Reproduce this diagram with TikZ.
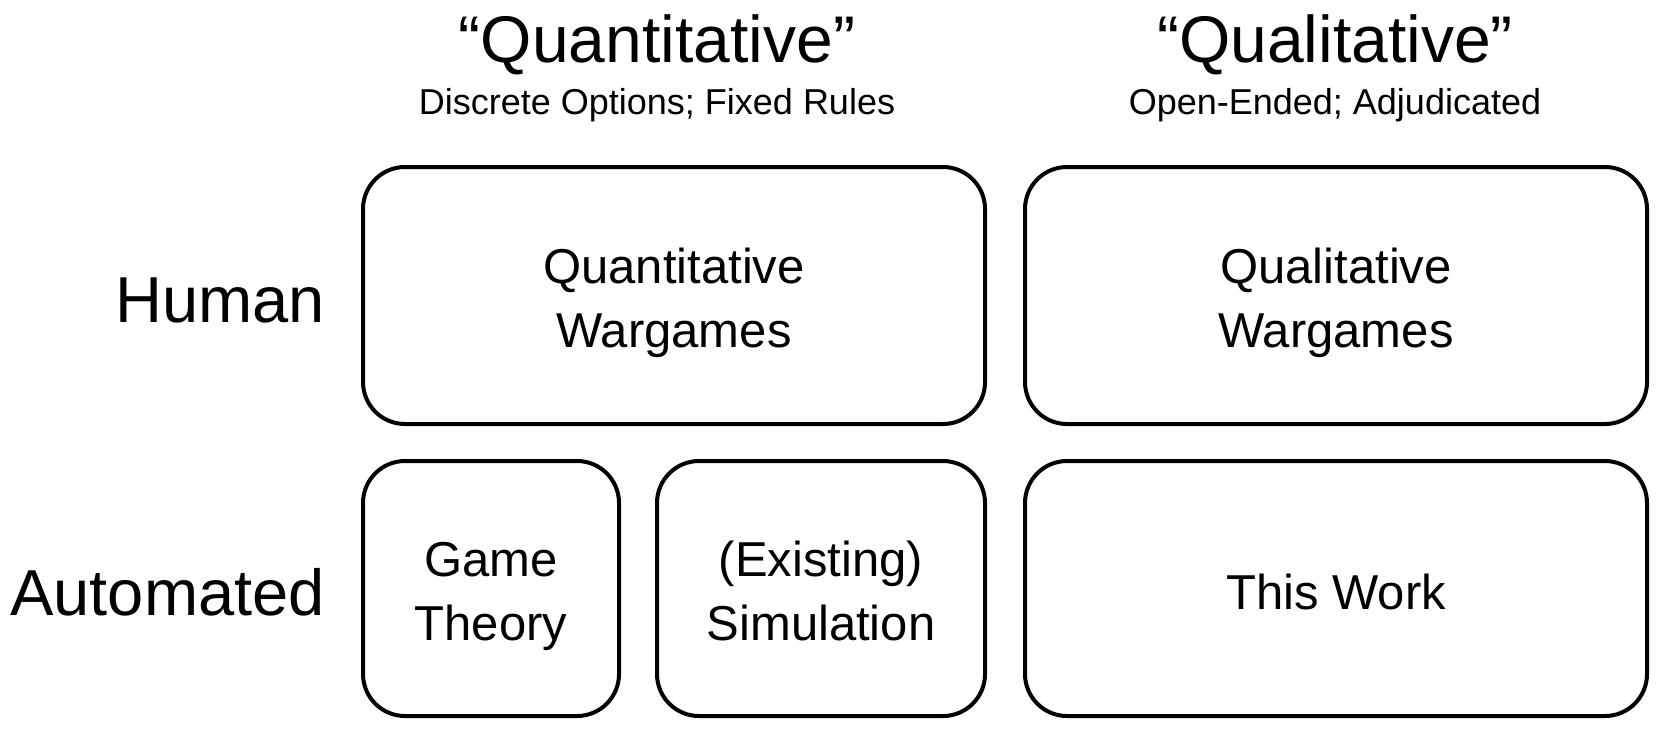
\documentclass[tikz,border=0pt]{standalone}
\usepackage{fontspec}
\setmainfont{Liberation Sans}
\usetikzlibrary{positioning}

\begin{document}
\begin{tikzpicture}[x=1pt,y=-1pt,
box/.style={draw,line width=4pt,rounded corners=42pt,align=center,inner sep=0pt,text height=104pt,text depth=0pt,font=\fontsize{49}{64}\selectfont},
oneline/.style={text height=41pt,text depth=0pt},
head/.style={anchor=base,inner sep=0pt,font=\fontsize{66}{70}\selectfont},
sub/.style={anchor=base,inner sep=0pt,font=\fontsize{36}{40}\selectfont},
row/.style={anchor=base east,inner sep=0pt,font=\fontsize{65}{70}\selectfont}]
  \useasboundingbox (0,0) rectangle (1661,732);
  % column headings
  \node[head] (quanthead) at (657,62) {``Quantitative''};
  \node[sub] (quantsub) at (657,114) {Discrete Options; Fixed Rules};
  \node[head] (qualhead) at (1335,62) {``Qualitative''};
  \node[sub] (qualsub) at (1335,114) {Open-Ended; Adjudicated};
  % row headings
  \node[row] (human) at (325,322) {Human};
  \node[row] (auto) at (325,615) {Automated};
  % cells
  \node[box,minimum width=622pt,minimum height=257pt] (quantwar) at (674,295.5) {Quantitative\\Wargames};
  \node[box,minimum width=622pt,minimum height=257pt] (qualwar) at (1336,295.5) {Qualitative\\Wargames};
  \node[box,minimum width=256pt,minimum height=255pt] (gametheory) at (491,588.5) {Game\\Theory};
  \node[box,minimum width=328pt,minimum height=255pt] (simulation) at (821,588.5) {(Existing)\\Simulation};
  \node[box,oneline,minimum width=622pt,minimum height=255pt] (thiswork) at (1336,588.5) {This Work};
\end{tikzpicture}
\end{document}
